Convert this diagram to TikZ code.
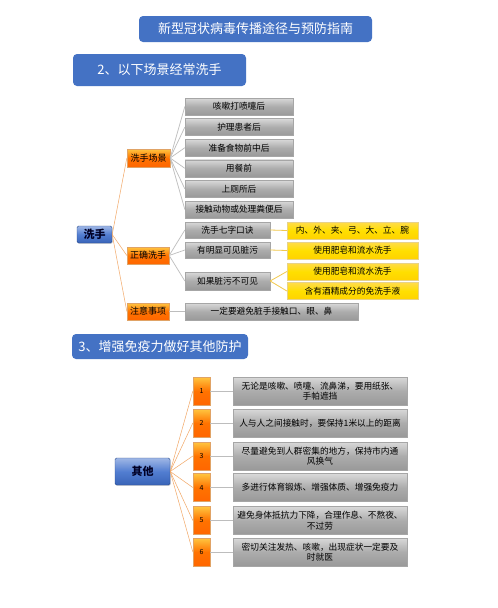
\documentclass[tikz,border=0pt]{standalone}
\usepackage{fontspec}
\setmainfont{Noto Sans CJK SC}
\usetikzlibrary{shadows}

\definecolor{hdblue}{HTML}{4472C4}
\definecolor{rootblue}{HTML}{3F6FCC}
\definecolor{orangeline}{HTML}{F2A765}
\definecolor{grayline}{HTML}{BDBDBD}
\definecolor{goldline}{HTML}{F2C94C}

\tikzset{
  header/.style={rounded corners=4pt, fill=hdblue, text=white, inner sep=0pt,
    font=\fontsize{13}{15}\selectfont},
  rootbox/.style={rounded corners=1.5pt, top color=rootblue!50, bottom color=rootblue!90!black,
    middle color=rootblue!90, draw=rootblue!70!black, line width=0.4pt, inner sep=0pt,
    text=black!85!blue, font=\fontsize{11}{13}\selectfont\bfseries,
    drop shadow={shadow xshift=0.8pt, shadow yshift=-0.8pt, opacity=0.3}},
  orangebox/.style={top color=orange!60!yellow!75, bottom color=orange!80!red, middle color=orange!90!red,
    draw=orange!80!black!60, line width=0.3pt, inner sep=0pt, text=black,
    font=\fontsize{9}{11}\selectfont,
    drop shadow={shadow xshift=0.8pt, shadow yshift=-0.8pt, opacity=0.3}},
  graybox/.style={top color=gray!30, bottom color=gray!80, middle color=gray!65,
    draw=gray!70, line width=0.3pt, inner sep=0pt, align=center, text=black,
    font=\fontsize{8.7}{10.5}\selectfont,
    drop shadow={shadow xshift=0.8pt, shadow yshift=-0.8pt, opacity=0.35}},
  goldbox/.style={top color=yellow!60!orange!70, bottom color=yellow!65!orange, middle color=yellow!75!orange,
    draw=yellow!60!orange!80!black!50, line width=0.3pt, inner sep=0pt, text=black,
    font=\fontsize{8.7}{10.5}\selectfont,
    drop shadow={shadow xshift=0.8pt, shadow yshift=-0.8pt, opacity=0.3}},
  oline/.style={draw=orangeline, line width=0.5pt},
  gline/.style={draw=grayline, line width=0.7pt},
  yline/.style={draw=goldline, line width=0.8pt}
}

\begin{document}
\begin{tikzpicture}[x=1pt, y=-1pt]
  \useasboundingbox[fill=white] (0,0) rectangle (498,608);

  % headers
  \node[header, minimum width=233pt, minimum height=26pt] (title) at (255.5,29) {新型冠状病毒传播途径与预防指南};
  \node[header, minimum width=173pt, minimum height=32pt] (sec2) at (159.5,70) {2、以下场景经常洗手};
  \node[header, minimum width=176pt, minimum height=25pt] (sec3) at (160,346.5) {3、增强免疫力做好其他防护};

  % part 2: hand washing
  \node[rootbox, minimum width=35pt, minimum height=17pt] (wash) at (94.5,234.5) {洗手};
  \node[orangebox, minimum width=43pt, minimum height=18pt] (scene) at (148.5,158) {洗手场景};
  \node[orangebox, minimum width=42pt, minimum height=17pt] (right) at (148,255.5) {正确洗手};
  \node[orangebox, minimum width=42pt, minimum height=17pt] (note) at (148,311.5) {注意事项};

  \foreach \name/\txt [count=\i from 0] in {s1/咳嗽打喷嚏后, s2/护理患者后, s3/准备食物前中后,
      s4/用餐前, s5/上厕所后, s6/接触动物或处理粪便后} {
    \node[graybox, minimum width=108pt, minimum height=17pt] (\name) at (239,106.5+20.6*\i) {\txt};
    \draw[gline] (scene.east) -- (\name.west);
  }

  \node[graybox, minimum width=85pt, minimum height=16pt] (r1) at (227.5,230) {洗手七字口诀};
  \node[graybox, minimum width=85pt, minimum height=16pt] (r2) at (227.5,250) {有明显可见脏污};
  \node[graybox, minimum width=85pt, minimum height=18pt] (r3) at (227.5,281) {如果脏污不可见};
  \node[graybox, minimum width=173pt, minimum height=17pt] (n1) at (271.5,311.5) {一定要避免脏手接触口、眼、鼻};

  \node[goldbox, minimum width=131pt, minimum height=17pt] (y1) at (352.5,230.5) {内、外、夹、弓、大、立、腕};
  \node[goldbox, minimum width=131pt, minimum height=17pt] (y2) at (352.5,250.5) {使用肥皂和流水洗手};
  \node[goldbox, minimum width=131pt, minimum height=17pt] (y3) at (352.5,271.5) {使用肥皂和流水洗手};
  \node[goldbox, minimum width=131pt, minimum height=17pt] (y4) at (352.5,291) {含有酒精成分的免洗手液};

  \foreach \child in {scene, right, note}
    \draw[oline] (wash.east) -- (\child.west);
  \foreach \child in {r1, r2, r3}
    \draw[gline] (right.east) -- (\child.west);
  \draw[gline] (note.east) -- (n1.west);
  \draw[yline] (r1.east) -- (y1.west);
  \draw[yline] (r2.east) -- (y2.west);
  \draw[yline] (r3.east) -- (y3.west);
  \draw[yline] (r3.east) -- (y4.west);

  % part 3: other protection
  \node[rootbox, minimum width=55pt, minimum height=27pt] (other) at (142.5,471.5) {其他};

  \foreach \y/\txt [count=\i] in {391/{无论是咳嗽、喷嚏、流鼻涕，要用纸张、\\手帕遮挡},
      423/{人与人之间接触时，要保持1米以上的距离},
      456/{尽量避免到人群密集的地方，保持市内通\\风换气},
      487.5/{多进行体育锻炼、增强体质、增强免疫力},
      520.5/{避免身体抵抗力下降，合理作息、不熬夜、\\不过劳},
      552/{密切关注发热、咳嗽，出现症状一定要及\\时就医}} {
    \node[orangebox, minimum width=17pt, minimum height=28pt, font=\fontsize{7}{8}\selectfont] (num\i) at (201.5,\y) {\i};
    \node[graybox, minimum width=174pt, minimum height=28pt] (tip\i) at (320,\y) {\txt};
    \draw[oline] (other.east) -- (num\i.west);
    \draw[gline] (num\i.east) -- (tip\i.west);
  }
\end{tikzpicture}
\end{document}
